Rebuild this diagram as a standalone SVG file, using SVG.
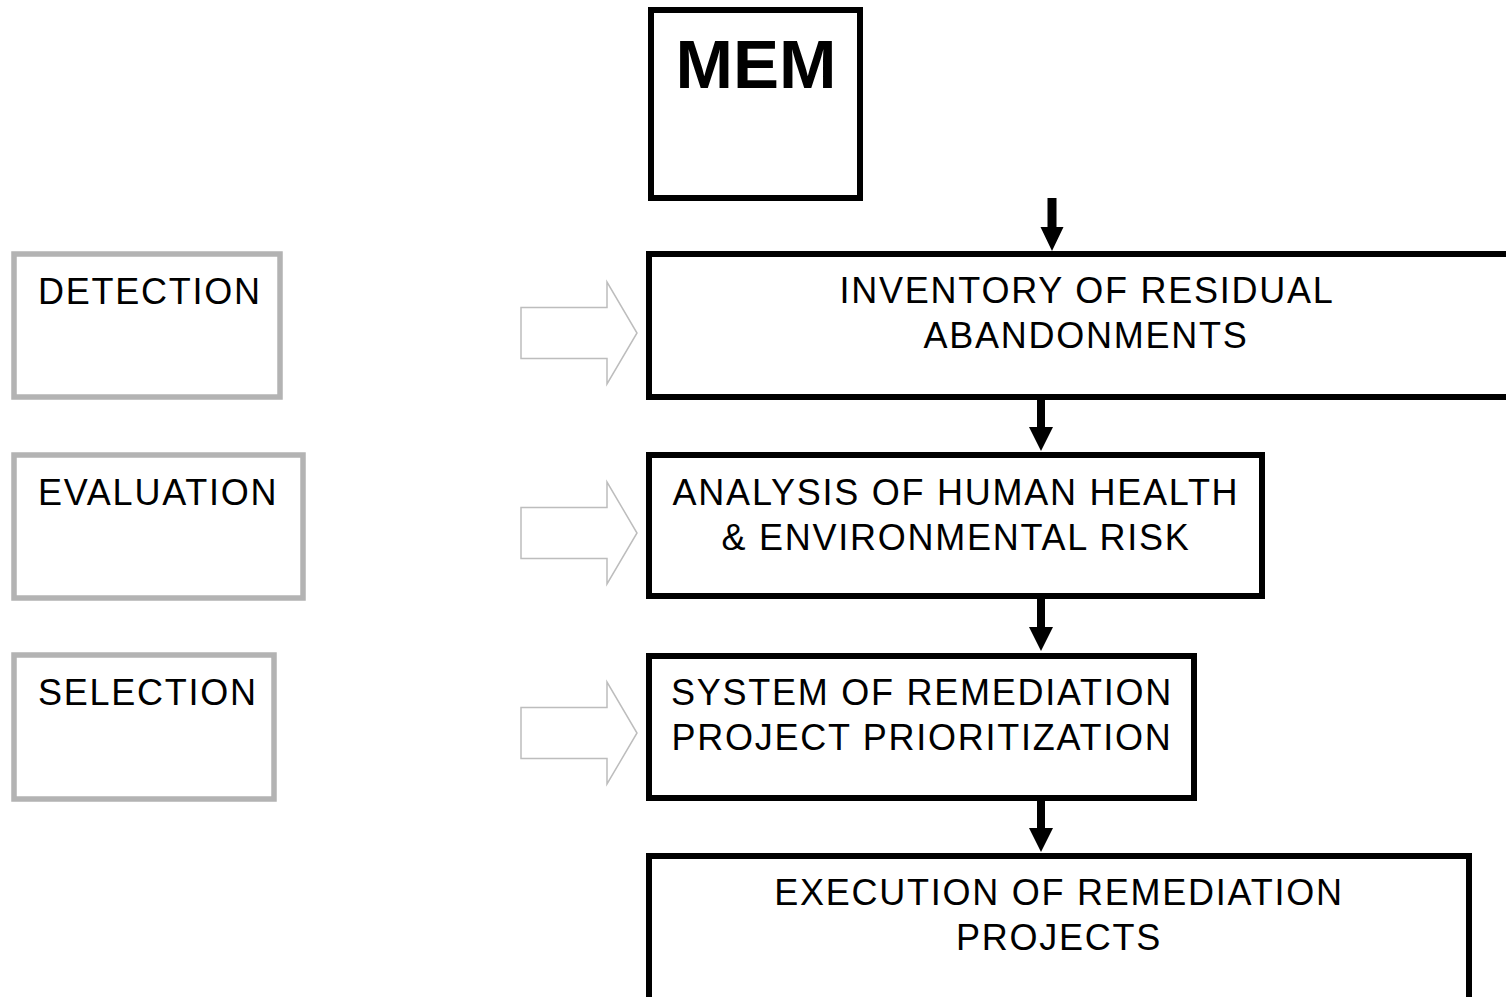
<svg xmlns="http://www.w3.org/2000/svg" width="1506" height="997" viewBox="0 0 1506 997">
<style>
.main{fill:#fff;stroke:#000;stroke-width:6}
.side{fill:#fff;stroke:#b3b3b3;stroke-width:5.5}
.hollow{fill:#fff;stroke:#bdbdbd;stroke-width:1.5;stroke-linejoin:miter}
.arr{fill:#000}
text{font-family:"Liberation Sans",Arial,sans-serif;font-size:36px;fill:#000;letter-spacing:1.75px}
.c{text-anchor:middle}
.mem{font-size:69px;font-weight:bold;letter-spacing:0}
</style>
<rect x="0" y="0" width="1506" height="997" fill="#fff"/>
<g id="mem"><rect class="main" x="651" y="10" width="209" height="188"/><text class="mem c" x="756" y="88">MEM</text></g>
<g id="detection"><rect class="side" x="14" y="254" width="266" height="143"/><text x="38" y="304">DETECTION</text></g>
<g id="evaluation"><rect class="side" x="14" y="455" width="289" height="143"/><text x="38" y="505">EVALUATION</text></g>
<g id="selection"><rect class="side" x="14" y="655" width="260" height="144"/><text x="38" y="705">SELECTION</text></g>
<g id="inventory"><rect class="main" x="649" y="254" width="900" height="143"/><text class="c" x="1087" y="303">INVENTORY OF RESIDUAL</text><text class="c" x="1086" y="348">ABANDONMENTS</text></g>
<g id="analysis"><rect class="main" x="649" y="455" width="613" height="141"/><text class="c" x="956" y="505">ANALYSIS OF HUMAN HEALTH</text><text class="c" x="956" y="550">&amp; ENVIRONMENTAL RISK</text></g>
<g id="system"><rect class="main" x="649" y="656" width="545" height="142"/><text class="c" x="922" y="705">SYSTEM OF REMEDIATION</text><text class="c" x="922" y="750">PROJECT PRIORITIZATION</text></g>
<g id="execution"><rect class="main" x="649" y="856" width="820" height="200"/><text class="c" x="1059" y="905">EXECUTION OF REMEDIATION</text><text class="c" x="1059" y="950">PROJECTS</text></g>
<g id="connectors">
<path class="hollow" d="M521,307.5 H607 V282 L637,333 L607,384 V358.5 H521 Z"/>
<path class="hollow" d="M521,507.5 H607 V482 L637,533 L607,584 V558.5 H521 Z"/>
<path class="hollow" d="M521,707.5 H607 V682 L637,733 L607,784 V758.5 H521 Z"/>
<path class="arr" d="M1047.5,198 H1056.5 V227 H1063.5 L1052,251 L1040.5,227 H1047.5 Z"/>
<path class="arr" d="M1037,398 H1045 V427 H1053 L1041,451 L1029,427 H1037 Z"/>
<path class="arr" d="M1037,598 H1045 V627 H1053 L1041,651 L1029,627 H1037 Z"/>
<path class="arr" d="M1037,799 H1045 V828 H1053 L1041,852 L1029,828 H1037 Z"/>
</g>
</svg>
